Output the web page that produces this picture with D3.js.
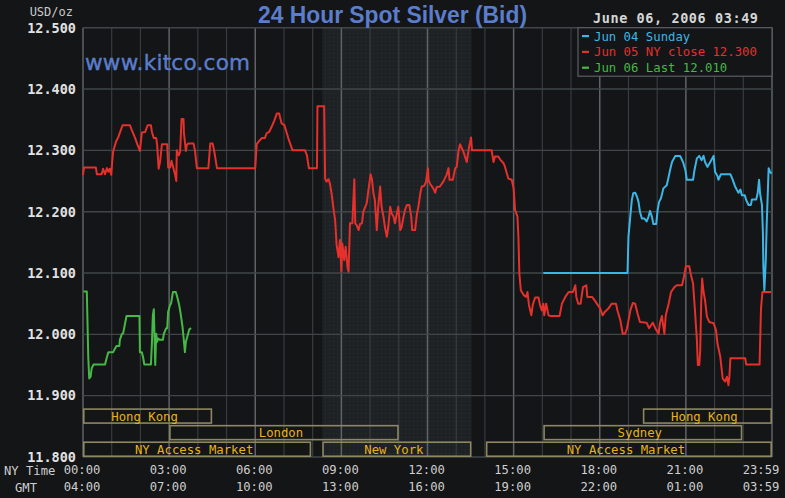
<!DOCTYPE html>
<html>
<head>
<meta charset="utf-8">
<script src="https://cdn.jsdelivr.net/npm/d3@7"></script>
<style>
  html, body { margin: 0; padding: 0; background: #131517; }
  svg { display: block; }
  .mono { font-family: "DejaVu Sans Mono", "Liberation Mono", monospace; }
</style>
</head>
<body>
<svg id="chart" width="785" height="498"></svg>
<script>
// price axis and time axis
var yTicks = [11.8, 11.9, 12.0, 12.1, 12.2, 12.3, 12.4, 12.5];
var xTicks = [0, 180, 360, 540, 720, 900, 1080, 1260, 1439];
var nyLabels = ['00:00', '03:00', '06:00', '09:00', '12:00', '15:00', '18:00', '21:00', '23:59'];
var gmtLabels = ['04:00', '07:00', '10:00', '13:00', '16:00', '19:00', '22:00', '01:00', '03:59'];

// [minute of NY day, USD/oz]
var closeData = [[0,12.260],[2,12.272],[27,12.272],[29,12.261],[39,12.261],[42,12.270],[46,12.261],[50,12.271],[53,12.265],[56,12.270],[59,12.260],[61,12.281],[63,12.298],[69,12.314],[74,12.322],[79,12.333],[83,12.341],[98,12.341],[102,12.333],[109,12.320],[114,12.309],[119,12.299],[123,12.329],[130,12.330],[135,12.341],[142,12.341],[144,12.330],[148,12.320],[153,12.320],[155,12.309],[158,12.270],[161,12.281],[165,12.310],[176,12.310],[178,12.272],[182,12.272],[185,12.283],[189,12.271],[192,12.262],[195,12.250],[196,12.300],[200,12.292],[203,12.298],[206,12.351],[210,12.351],[211,12.328],[215,12.299],[217,12.309],[220,12.311],[231,12.311],[234,12.300],[238,12.271],[262,12.271],[266,12.311],[271,12.311],[274,12.300],[280,12.271],[360,12.271],[363,12.310],[370,12.317],[374,12.320],[380,12.320],[384,12.328],[389,12.330],[394,12.338],[400,12.349],[405,12.360],[410,12.360],[415,12.344],[421,12.341],[426,12.328],[429,12.320],[433,12.311],[438,12.300],[464,12.300],[468,12.292],[472,12.271],[489,12.271],[490,12.372],[504,12.372],[506,12.254],[509,12.249],[513,12.253],[516,12.246],[520,12.227],[523,12.208],[527,12.186],[530,12.146],[534,12.126],[537,12.154],[540,12.102],[542,12.148],[546,12.121],[549,12.143],[553,12.108],[555,12.102],[558,12.181],[563,12.181],[567,12.253],[569,12.181],[572,12.178],[576,12.170],[579,12.180],[583,12.181],[586,12.200],[593,12.214],[596,12.232],[601,12.261],[604,12.252],[607,12.230],[610,12.219],[614,12.170],[617,12.208],[621,12.241],[624,12.208],[628,12.192],[631,12.175],[635,12.159],[638,12.175],[642,12.208],[645,12.197],[649,12.192],[652,12.181],[656,12.197],[659,12.208],[663,12.170],[666,12.175],[670,12.192],[673,12.203],[677,12.211],[682,12.211],[686,12.192],[688,12.170],[694,12.170],[698,12.197],[701,12.208],[705,12.230],[708,12.241],[713,12.242],[717,12.249],[721,12.271],[722,12.252],[725,12.246],[732,12.238],[736,12.231],[739,12.240],[746,12.241],[753,12.249],[760,12.260],[764,12.271],[766,12.252],[773,12.252],[778,12.271],[781,12.273],[785,12.300],[788,12.310],[795,12.298],[802,12.281],[807,12.306],[811,12.321],[813,12.300],[854,12.300],[858,12.281],[861,12.290],[868,12.290],[872,12.285],[879,12.279],[882,12.273],[886,12.262],[889,12.254],[896,12.252],[900,12.238],[903,12.203],[908,12.192],[910,12.159],[912,12.099],[915,12.072],[921,12.064],[926,12.061],[929,12.069],[932,12.048],[937,12.031],[940,12.048],[945,12.060],[952,12.060],[955,12.048],[959,12.039],[962,12.050],[964,12.031],[968,12.050],[973,12.031],[976,12.030],[996,12.030],[1001,12.050],[1008,12.061],[1015,12.069],[1024,12.069],[1029,12.080],[1031,12.061],[1035,12.050],[1040,12.050],[1045,12.077],[1052,12.080],[1054,12.061],[1064,12.061],[1068,12.057],[1074,12.050],[1081,12.042],[1086,12.031],[1091,12.037],[1098,12.042],[1105,12.050],[1114,12.050],[1117,12.039],[1123,12.023],[1128,12.001],[1133,12.001],[1137,12.010],[1144,12.039],[1149,12.051],[1154,12.050],[1159,12.034],[1164,12.020],[1178,12.019],[1183,12.010],[1191,12.019],[1196,12.010],[1203,12.001],[1206,12.019],[1210,12.030],[1212,12.018],[1215,12.001],[1218,12.031],[1224,12.050],[1229,12.069],[1236,12.077],[1241,12.080],[1252,12.080],[1256,12.094],[1260,12.111],[1267,12.111],[1270,12.099],[1275,12.083],[1279,12.039],[1283,11.991],[1285,11.950],[1288,11.950],[1290,11.974],[1292,12.050],[1294,12.091],[1297,12.069],[1300,12.056],[1304,12.029],[1309,12.020],[1318,12.018],[1323,12.007],[1326,11.985],[1332,11.963],[1337,11.928],[1342,11.923],[1346,11.931],[1349,11.917],[1351,11.931],[1353,11.961],[1360,11.961],[1384,11.961],[1386,11.951],[1414,11.951],[1417,12.042],[1420,12.069],[1438,12.069]];

var sundayData = [[962,12.100],[1138,12.100],[1140,12.159],[1144,12.194],[1147,12.219],[1150,12.230],[1154,12.231],[1158,12.224],[1161,12.216],[1164,12.200],[1168,12.189],[1173,12.189],[1178,12.184],[1182,12.192],[1185,12.201],[1189,12.192],[1192,12.180],[1198,12.180],[1201,12.203],[1204,12.216],[1208,12.222],[1213,12.238],[1220,12.243],[1224,12.257],[1227,12.268],[1231,12.281],[1238,12.291],[1248,12.291],[1254,12.281],[1259,12.268],[1262,12.252],[1275,12.252],[1278,12.268],[1283,12.287],[1288,12.291],[1293,12.284],[1297,12.291],[1300,12.281],[1305,12.273],[1311,12.281],[1318,12.291],[1321,12.265],[1326,12.258],[1328,12.252],[1333,12.261],[1353,12.261],[1357,12.254],[1363,12.241],[1367,12.235],[1370,12.231],[1374,12.236],[1377,12.227],[1383,12.227],[1386,12.219],[1391,12.211],[1396,12.211],[1398,12.220],[1407,12.220],[1410,12.230],[1413,12.252],[1415,12.230],[1419,12.211],[1421,12.165],[1422,12.110],[1424,12.072],[1427,12.121],[1429,12.181],[1433,12.271],[1436,12.265],[1439,12.262]];

var lastData = [[1,12.070],[8,12.070],[9,12.034],[11,11.963],[13,11.928],[16,11.931],[18,11.944],[22,11.951],[46,11.951],[50,11.963],[53,11.971],[63,11.971],[67,11.977],[70,11.981],[76,11.981],[77,11.991],[81,12.000],[84,12.002],[88,12.018],[91,12.030],[118,12.030],[119,11.971],[123,11.971],[126,11.961],[128,11.951],[142,11.951],[144,11.985],[146,12.031],[148,12.041],[151,11.950],[153,12.001],[155,11.988],[157,11.993],[161,11.991],[167,11.991],[169,12.001],[174,12.010],[176,12.010],[178,12.037],[182,12.048],[184,12.050],[188,12.069],[194,12.069],[197,12.061],[201,12.048],[204,12.034],[208,12.012],[211,11.988],[213,11.971],[215,11.988],[219,11.999],[222,12.008],[226,12.010]];

// trading sessions, minutes of NY day
var marketNames = ['Hong Kong', 'London', 'NY Access Market', 'New York', 'NY Access Market', 'Sydney', 'Hong Kong'];
var marketStart = [0, 180, 0, 500, 842, 962, 1170];
var marketEnd = [270, 660, 477, 812, 1440, 1378, 1440];
var marketRow = [0, 1, 2, 2, 2, 1, 0];
var nySession = [500, 812];

var legendLabels = ['Jun 04 Sunday', 'Jun 05 NY close 12.300', 'Jun 06 Last 12.010'];
var seriesColors = ['#3cb6e6', '#e5302c', '#46b846'];

var svg = d3.select('#chart');
var x = d3.scaleLinear().domain([0, 1440]).range([83, 772]);
var y = d3.scaleLinear().domain([11.8, 12.5]).range([457, 27.7]);
var row = d3.scaleBand().domain([0, 1, 2]).range([408.3, 457]).paddingInner(0.06);

svg.append('rect').attr('width', 785).attr('height', 498).attr('fill', '#131517');

// dotted shading for the New York session
var pat = svg.append('defs').append('pattern').attr('id', 'dots')
  .attr('width', 4).attr('height', 4).attr('patternUnits', 'userSpaceOnUse');
pat.append('rect').attr('width', 4).attr('height', 4).attr('fill', '#1e2225');
pat.append('rect').attr('x', 1).attr('y', 1).attr('width', 1).attr('height', 1).attr('fill', '#2a2f35');
svg.append('rect')
  .attr('x', x(nySession[0])).attr('y', y(12.5))
  .attr('width', x(nySession[1]) - x(nySession[0])).attr('height', y(11.8) - y(12.5))
  .attr('fill', 'url(#dots)');

// grid
var hours = d3.range(0, 1441, 60);
svg.append('g').selectAll('line').data(hours).enter().append('line')
  .attr('x1', function(d) { return x(d); }).attr('x2', function(d) { return x(d); })
  .attr('y1', y(12.5)).attr('y2', y(11.8))
  .attr('stroke', function(d) { return (d % 180 === 0 || d === 1440) ? '#5e6466' : '#373c3f'; })
  .attr('stroke-width', function(d) { return (d % 180 === 0 || d === 1440) ? 1.5 : 1.2; });
svg.append('g').selectAll('line').data(yTicks).enter().append('line')
  .attr('x1', x(0)).attr('x2', x(1440))
  .attr('y1', function(d) { return y(d); }).attr('y2', function(d) { return y(d); })
  .attr('stroke', '#404648').attr('stroke-width', 1.4);

// price labels
var yAxis = svg.append('g').attr('class', 'mono').attr('transform', 'translate(' + x(0) + ',0)')
  .call(d3.axisLeft(y).tickValues(yTicks).tickFormat(d3.format('.3f')).tickSize(0).tickPadding(7));
yAxis.select('.domain').remove();
yAxis.selectAll('text').attr('fill', '#e2e2e2').attr('font-size', 13.5).attr('font-weight', 'bold')
  .attr('font-family', '"DejaVu Sans Mono", monospace');

svg.append('text').attr('class', 'mono').attr('x', 73).attr('y', 16).attr('text-anchor', 'end')
  .attr('font-size', 12).attr('fill', '#c9c9c9').text('USD/oz');

// time labels
function timeAxis(labels, pad) {
  var g = svg.append('g').attr('transform', 'translate(0,' + y(11.8) + ')')
    .call(d3.axisBottom(x).tickValues(xTicks).tickSize(0).tickPadding(pad)
      .tickFormat(function(d, i) { return labels[i]; }));
  g.select('.domain').remove();
  g.selectAll('text').attr('fill', '#cfcfcf').attr('font-size', 12.2)
    .attr('font-family', '"DejaVu Sans Mono", monospace')
    .attr('dx', function(d, i) { return i === xTicks.length - 1 ? -11 : -1.5; });
}
timeAxis(nyLabels, 8);
timeAxis(gmtLabels, 25);
svg.append('text').attr('class', 'mono').attr('x', 4).attr('y', 475)
  .attr('font-size', 12.2).attr('fill', '#cfcfcf').text('NY Time');
svg.append('text').attr('class', 'mono').attr('x', 15).attr('y', 492)
  .attr('font-size', 12.2).attr('fill', '#cfcfcf').text('GMT');

// session bars
var bars = svg.append('g').selectAll('g').data(marketNames).enter().append('g');
bars.append('rect')
  .attr('x', function(d, i) { return x(marketStart[i]) + 0.8; })
  .attr('y', function(d, i) { return row(marketRow[i]) + 0.8; })
  .attr('width', function(d, i) { return x(marketEnd[i]) - x(marketStart[i]) - 1.6; })
  .attr('height', row.bandwidth() - 1.6)
  .attr('fill', 'none').attr('stroke', '#8e8760').attr('stroke-width', 1.6);
bars.append('text').attr('class', 'mono')
  .attr('x', function(d, i) { return (x(marketStart[i]) + x(marketEnd[i])) / 2 - 3; })
  .attr('y', function(d, i) { return row(marketRow[i]) + row.bandwidth() / 2 + 4.5; })
  .attr('text-anchor', 'middle').attr('font-size', 12.3).attr('fill', '#e6b31c')
  .text(function(d) { return d; });

// price lines
var line = d3.line()
  .x(function(d) { return x(d[0]); })
  .y(function(d) { return y(d[1]); });
[[closeData, 1], [sundayData, 0], [lastData, 2]].forEach(function(s) {
  svg.append('path').datum(s[0]).attr('d', line)
    .attr('fill', 'none').attr('stroke', seriesColors[s[1]])
    .attr('stroke-width', 2).attr('stroke-linejoin', 'round');
});

// legend
var lg = svg.append('g');
lg.append('rect').attr('x', 578).attr('y', y(12.5)).attr('width', x(1440) - 578).attr('height', 48.5)
  .attr('fill', '#131517').attr('stroke', '#5a5f62').attr('stroke-width', 1.2);
var items = lg.selectAll('g').data(legendLabels).enter().append('g')
  .attr('transform', function(d, i) { return 'translate(582,' + (36 + i * 15.8) + ')'; });
items.append('rect').attr('x', 0).attr('y', -1).attr('width', 7).attr('height', 2.2)
  .attr('fill', function(d, i) { return seriesColors[i]; });
items.append('text').attr('class', 'mono').attr('x', 12).attr('y', 4.5)
  .attr('font-size', 12.3).attr('fill', function(d, i) { return seriesColors[i]; })
  .text(function(d) { return d; });

// titles
svg.append('text').attr('x', 392.5).attr('y', 23).attr('text-anchor', 'middle')
  .attr('font-family', '"Liberation Sans", Arial, sans-serif').attr('font-size', 23.5)
  .attr('font-weight', 'bold').attr('fill', '#5b7dcc')
  .attr('textLength', 269).attr('lengthAdjust', 'spacingAndGlyphs').text('24 Hour Spot Silver (Bid)');
svg.append('text').attr('x', 85).attr('y', 70)
  .attr('font-family', '"DejaVu Sans", sans-serif').attr('font-size', 21.5)
  .attr('fill', '#5b7dcc').attr('stroke', '#5b7dcc').attr('stroke-width', 0.4)
  .attr('textLength', 165).text('www.kitco.com');
svg.append('text').attr('class', 'mono').attr('x', 593).attr('y', 23)
  .attr('font-size', 13.5).attr('font-weight', 'bold').attr('fill', '#d6d6d6')
  .attr('textLength', 165).text('June 06, 2006 03:49');
</script>
</body>
</html>
